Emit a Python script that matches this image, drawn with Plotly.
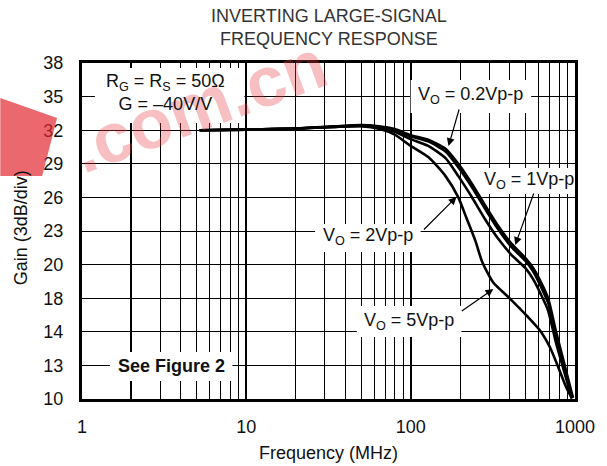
import plotly.graph_objects as go

# ---------------- data ----------------
freq_02 = [5.2, 10, 20, 35, 50, 64, 80, 100, 128, 163, 195, 234, 285, 341, 409, 498, 556, 622, 686, 767, 869, 972]
gain_02 = [32.0, 32.05, 32.15, 32.35, 32.45, 32.35, 32.1, 31.55, 31.15, 30.35, 29.0, 27.3, 25.25, 23.45, 21.9, 20.6, 19.7, 18.4, 17.0, 14.0, 10.9, 8.1]

freq_1 = [5.2, 10, 20, 35, 50, 64, 80, 100, 128, 163, 195, 234, 285, 341, 409, 498, 556, 622, 686, 767, 869, 965]
gain_1 = [32.0, 32.05, 32.15, 32.33, 32.42, 32.3, 32.0, 31.45, 31.0, 30.1, 28.7, 27.0, 24.95, 23.15, 21.6, 20.35, 19.4, 18.0, 16.6, 13.6, 10.6, 8.1]

freq_2 = [5.2, 10, 20, 35, 50, 64, 80, 100, 128, 163, 195, 234, 285, 341, 409, 498, 556, 622, 686, 767, 869, 958]
gain_2 = [32.0, 32.05, 32.15, 32.3, 32.38, 32.2, 31.85, 31.2, 30.6, 29.5, 27.9, 26.1, 24.0, 22.3, 20.9, 19.7, 18.7, 17.3, 15.9, 13.0, 10.2, 8.05]

freq_5 = [5.2, 10, 20, 35, 50, 65, 80, 100, 128, 163, 195, 218, 248, 273, 318, 393, 519, 614, 705, 788, 881, 959]
gain_5 = [32.0, 32.05, 32.15, 32.3, 32.35, 32.1, 31.6, 30.6, 29.6, 27.9, 26.0, 24.2, 22.1, 20.2, 18.4, 17.1, 15.3, 14.1, 12.6, 10.9, 9.1, 8.05]

x_tick_vals = [1, 2, 10, 100, 1000]
x_tick_text = ["1", "", "10", "100", "1000"]
x_minor_vals = [3, 4, 5, 6, 7, 8, 9, 20, 30, 40, 50, 60, 70, 80, 90, 200, 300, 400, 500, 600, 700, 800, 900]
y_tick_vals = [8, 11, 14, 17, 20, 23, 26, 29, 32, 35, 38]
y_tick_text = ["10", "13", "14", "18", "20", "23", "26", "29", "32", "35", "38"]

series = [(freq_02, gain_02), (freq_1, gain_1), (freq_2, gain_2), (freq_5, gain_5)]

# ---------------- figure ----------------
W, H = 607, 466
L, R, T, B = 82, 577, 63, 399

def px(x):
    return (x - L) / (R - L)

def py(y):
    return (B - y) / (B - T)

FONT = "Liberation Sans, Arial, Helvetica, sans-serif"
FS = 18

fig = go.Figure()
for f, g in series:
    fig.add_trace(go.Scatter(x=f, y=g, mode="lines",
                             line=dict(color="black", width=2.6, shape="spline", smoothing=0.6),
                             showlegend=False, hoverinfo="skip"))

fig.update_layout(
    width=W, height=H,
    margin=dict(l=L, r=W - R, t=T, b=H - B, pad=0),
    paper_bgcolor="white", plot_bgcolor="white",
    font=dict(family=FONT, size=FS, color="#111"),
    showlegend=False,
)

fig.update_xaxes(type="log", range=[0, 3], tickvals=x_tick_vals, ticktext=x_tick_text,
                 showgrid=True, gridcolor="black", gridwidth=2,
                 minor=dict(tickvals=x_minor_vals, showgrid=True, gridcolor="black", gridwidth=1, ticks=""),
                 showline=True, linecolor="black", linewidth=3, mirror=True,
                 ticks="", ticklabelstandoff=9, zeroline=False)
fig.update_yaxes(range=[8, 38], tickvals=y_tick_vals, ticktext=y_tick_text,
                 showgrid=True, gridcolor="black", gridwidth=1,
                 showline=True, linecolor="black", linewidth=3, mirror=True,
                 ticks="", ticklabelstandoff=12, zeroline=False)

# white boxes behind labels (cover the grid)
boxes = [
    (95, 68, 245, 123),   # RG / G box
    (110, 352, 233, 381),  # See Figure 2
    (412, 80, 533, 113),   # 0.2Vp-p
    (485, 168, 576, 194),  # 1Vp-p
    (316, 224, 422, 252),  # 2Vp-p
    (358, 306, 463, 337),  # 5Vp-p
]
shapes = []
for x0, y0, x1, y1 in boxes:
    shapes.append(dict(type="rect", xref="paper", yref="paper",
                       x0=px(x0), x1=px(x1), y0=py(y1), y1=py(y0),
                       fillcolor="white", line=dict(width=0), layer="above"))
# watermark red logo piece at the left edge
shapes.append(dict(type="path", xref="paper", yref="paper",
                   path="M {} {} L {} {} L {} {} L {} {} Z".format(
                       px(0), py(98), px(57), py(118), px(42), py(176), px(0), py(176)),
                   fillcolor="rgba(226,40,50,0.7)", line=dict(width=0), layer="above"))
fig.update_layout(shapes=shapes)

ann = []
def text(x, y, s, size=FS, **kw):
    d = dict(x=px(x), y=py(y), xref="paper", yref="paper", text=s, showarrow=False,
             xanchor="center", yanchor="middle", font=dict(family=FONT, size=size, color="#111"))
    d.update(kw)
    ann.append(d)

def arrow(tail, tip):
    ann.append(dict(x=px(tip[0]), y=py(tip[1]), xref="paper", yref="paper",
                    ax=tail[0] - tip[0], ay=tail[1] - tip[1], axref="pixel", ayref="pixel",
                    text="", showarrow=True, arrowhead=2, arrowsize=1.3, arrowwidth=1.2,
                    arrowcolor="black", standoff=0, startstandoff=0))

# watermark text
text(200, 106, "<b>.com.cn</b>", textangle=-20,
     font=dict(family=FONT, size=70, color="rgba(230,60,70,0.33)"))

text(330, 28, "INVERTING LARGE-SIGNAL<br>FREQUENCY RESPONSE", font=dict(family=FONT, size=FS, color="#333"))
text(166, 92, "R<sub>G</sub> = R<sub>S</sub> = 50Ω<br>G = –40V/V")
text(172, 366, "<b>See Figure 2</b>")
text(472, 95, "V<sub>O</sub> = 0.2Vp-p")
text(531, 180, "V<sub>O</sub> = 1Vp-p")
text(369, 237, "V<sub>O</sub> = 2Vp-p")
text(410, 321, "V<sub>O</sub> = 5Vp-p")
arrow((461, 108), (450, 146))
arrow((536, 192), (517, 245))
arrow((424, 231), (458, 197))
arrow((462, 312), (495, 289))

text(330, 453, "Frequency (MHz)")
text(21, 228, "Gain (3dB/div)", textangle=-90)

fig.update_layout(annotations=ann)
fig.write_html("out.html", config={"displayModeBar": False},
               post_script="document.body.style.margin='0px';document.body.style.overflow='hidden';")
